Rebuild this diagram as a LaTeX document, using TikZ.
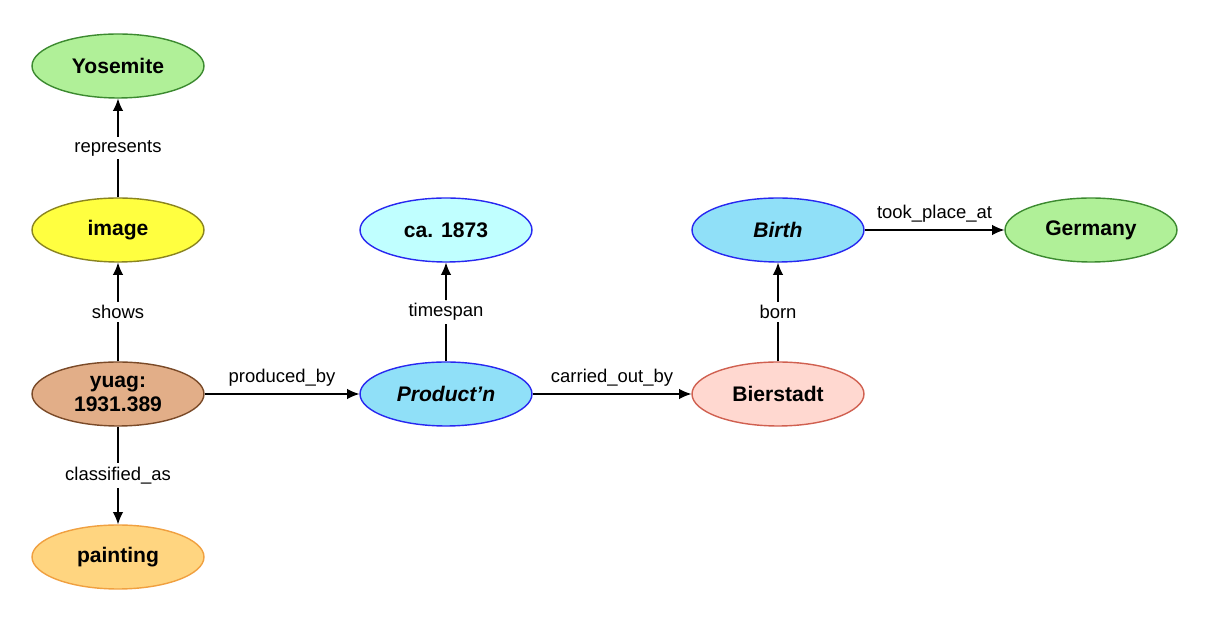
\documentclass[tikz,border=0pt]{standalone}
\usepackage{fontspec}
\setmainfont{Liberation Sans}
\usetikzlibrary{shapes.geometric,arrows.meta}
\definecolor{gfill}{HTML}{B0F098}\definecolor{gdraw}{HTML}{3C8A30}
\definecolor{yfill}{HTML}{FFFF40}\definecolor{ydraw}{HTML}{8A8420}
\definecolor{bfill}{HTML}{E2AE88}\definecolor{bdraw}{HTML}{7A4A28}
\definecolor{ofill}{HTML}{FFD580}\definecolor{odraw}{HTML}{F0A040}
\definecolor{cfill}{HTML}{C0FFFF}\definecolor{cdraw}{HTML}{2828F0}
\definecolor{sfill}{HTML}{90E0F8}
\definecolor{pfill}{HTML}{FFD8D0}\definecolor{pdraw}{HTML}{D06050}
\tikzset{
 nd/.style={ellipse,draw,line width=0.8pt,minimum width=3.44cm,minimum height=1.28cm,inner sep=0pt,font=\fontsize{12}{14}\selectfont\bfseries,align=center},
 ar/.style={-{Latex[length=7pt,width=6pt]},line width=0.7pt},
 lb/.style={font=\fontsize{10.5}{12}\selectfont,fill=white,inner sep=2pt},
 lt/.style={font=\fontsize{10.5}{12}\selectfont,above,inner sep=4pt}
}
\begin{document}
\begin{tikzpicture}[x=0.02cm,y=-0.02cm]
\useasboundingbox (0,0) rectangle (1208,624);
\node[nd,fill=gfill,draw=gdraw] (yos) at (118,66) {Yosemite};
\node[nd,fill=yfill,draw=ydraw] (img) at (118,230) {image};
\node[nd,fill=bfill,draw=bdraw] (yuag) at (118,394) {yuag:\\1931.389};
\node[nd,fill=ofill,draw=odraw] (pnt) at (118,557) {painting};
\node[nd,fill=cfill,draw=cdraw] (ca) at (446,230) {ca. 1873};
\node[nd,fill=sfill,draw=cdraw] (prod) at (446,394) {\itshape Product'n};
\node[nd,fill=sfill,draw=cdraw] (birth) at (778,230) {\itshape Birth};
\node[nd,fill=pfill,draw=pdraw] (bier) at (778,394) {Bierstadt};
\node[nd,fill=gfill,draw=gdraw] (ger) at (1091,230) {Germany};
\draw[ar] (img) -- node[lb]{represents} (yos);
\draw[ar] (yuag) -- node[lb]{shows} (img);
\draw[ar] (yuag) -- node[lb]{classified\_as} (pnt);
\draw[ar] (prod) -- node[lb]{timespan} (ca);
\draw[ar] (bier) -- node[lb]{born} (birth);
\draw[ar] (yuag) -- node[lt]{produced\_by} (prod);
\draw[ar] (prod) -- node[lt]{carried\_out\_by} (bier);
\draw[ar] (birth) -- node[lt]{took\_place\_at} (ger);
\end{tikzpicture}
\end{document}
